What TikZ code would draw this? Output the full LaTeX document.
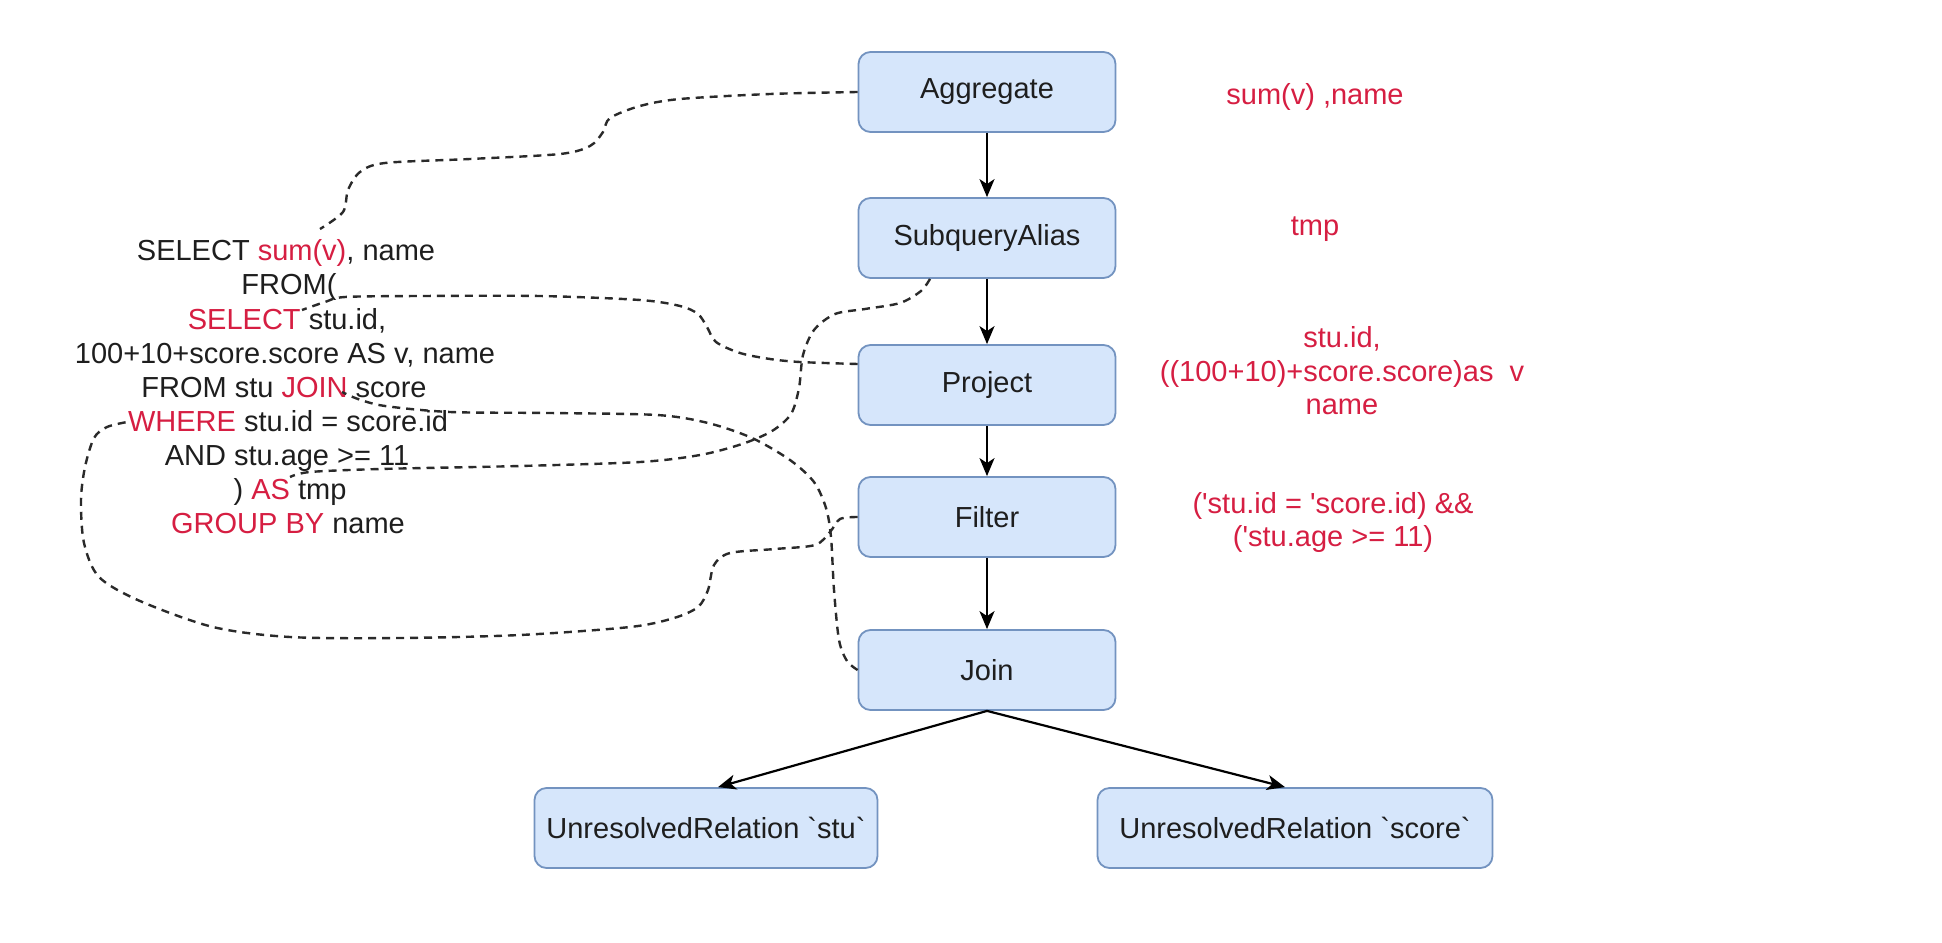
\documentclass[tikz,border=0pt]{standalone}
\usepackage{fontspec}
\newfontfamily\mainf{Liberation Sans}
\usetikzlibrary{arrows.meta}
\definecolor{redt}{RGB}{214,30,66}
\definecolor{boxfill}{HTML}{D6E6FB}
\definecolor{boxdraw}{HTML}{7393C0}
\definecolor{ink}{HTML}{1E1E1E}
\definecolor{dashc}{HTML}{2A2A2A}
\begin{document}
\begin{tikzpicture}[x=1pt,y=-1pt,
  box/.style={draw=boxdraw, fill=boxfill, line width=1.8pt, rounded corners=12pt,
    minimum width=257pt, minimum height=80pt, text=ink, inner sep=0pt,
    font=\mainf\fontsize{29}{34}\selectfont},
  sql/.style={text=ink, inner sep=0pt, anchor=base, font=\mainf\fontsize{29}{34}\selectfont},
  lbl/.style={text=redt, inner sep=0pt, anchor=base, font=\mainf\fontsize{29}{34}\selectfont},
  arr/.style={draw=black, line width=2.2pt, -{Stealth[length=18pt,width=15pt,inset=5pt]}},
  conn/.style={draw=dashc, line width=2.4pt, dash pattern=on 8pt off 6pt, line cap=butt}
]
\fill[white] (0,0) rectangle (1942,942);
\useasboundingbox (0,0) rectangle (1942,942);

% tree boxes
\node[box] (agg) at (987,92) {Aggregate};
\node[box] (sub) at (987,238) {SubqueryAlias};
\node[box] (prj) at (987,385) {Project};
\node[box] (fil) at (987,517) {Filter};
\node[box] (join) at (987,670) {Join};
\node[box, minimum width=343pt] (ustu) at (706,828) {UnresolvedRelation `stu`};
\node[box, minimum width=395pt] (uscore) at (1295,828) {UnresolvedRelation `score`};

% solid arrows
\draw[arr] (agg) -- (sub);
\draw[arr] (sub) -- (prj);
\draw[arr] (prj) -- (fil);
\draw[arr] (fil) -- (join);
\draw[arr] (join.south) -- ([xshift=12pt]ustu.north);
\draw[arr] (join.south) -- ([xshift=-10pt]uscore.north);

% red annotations
\node[lbl] (tagg) at (1315,104) {sum(v) ,name};
\node[lbl] (tsub) at (1315,235) {tmp};
\node[lbl] (tprj1) at (1342,347) {stu.id,};
\node[lbl] (tprj2) at (1342,381) {((100+10)+score.score)as \ v};
\node[lbl] (tprj3) at (1342,414) {name};
\node[lbl] (tfil1) at (1333,513) {('stu.id = 'score.id) \&\&};
\node[lbl] (tfil2) at (1333,546) {('stu.age >= 11)};

% SQL text
\node[sql] (l1) at (286,260) {SELECT \textcolor{redt}{sum(v)}, name};
\node[sql] (l2) at (289,294) {FROM(};
\node[sql] (l3) at (287,329) {\textcolor{redt}{SELECT} stu.id,};
\node[sql] (l4) at (285,363) {100+10+score.score AS v, name};
\node[sql] (l5) at (284,397) {FROM stu \textcolor{redt}{JOIN} score};
\node[sql] (l6) at (288,431) {\textcolor{redt}{WHERE} stu.id = score.id};
\node[sql] (l7) at (287,465) {AND stu.age >= 11};
\node[sql] (l8) at (290,499) {) \textcolor{redt}{AS} tmp};
\node[sql] (l9) at (288,533) {\textcolor{redt}{GROUP BY} name};

% ends of the dashed links at the SQL text
\coordinate (eA) at (320,229);
\coordinate (eB) at (302,310);
\coordinate (eC) at (290,477);
\coordinate (eD) at (127,422);
\coordinate (eE) at (342,392);

% dashed links
\draw[conn] plot[smooth, tension=0.5] coordinates {(agg.west) (770,94) (680,99) (640,106) (610,118) (603,132) (590,146) (560,154) (470,159) (385,163) (360,172) (348,190) (343,212) (eA)};
\draw[conn] plot[smooth, tension=0.5] coordinates {([yshift=21pt]prj.west) (800,362) (770,359) (740,353) (716,342) (707,327) (698,314) (680,306) (640,300) (540,296) (420,296) (345,297) (325,302) (eB)};
\draw[conn] plot[smooth, tension=0.5] coordinates {([xshift=-57pt]sub.south) (921,291) (900,303) (865,309) (835,314) (814,330) (803,355) (799,388) (791,414) (772,431) (742,444) (700,455) (640,462) (520,466) (380,469) (310,472) (eC)};
\draw[conn] plot[smooth, tension=0.5] coordinates {(fil.west) (840,519) (830,532) (815,545) (775,549) (730,553) (714,565) (708,590) (698,607) (674,618) (630,627) (520,635) (400,638) (290,637) (213,627) (140,601) (99,577) (84,543) (81,500) (85,467) (94,438) (107,427) (eD)};
\draw[conn] plot[smooth, tension=0.5] coordinates {(join.west) (847,661) (839,640) (834,590) (831,537) (826,508) (814,482) (790,460) (752,438) (708,423) (657,415) (550,413) (450,412) (385,406) (358,399) (eE)};
\end{tikzpicture}
\end{document}
